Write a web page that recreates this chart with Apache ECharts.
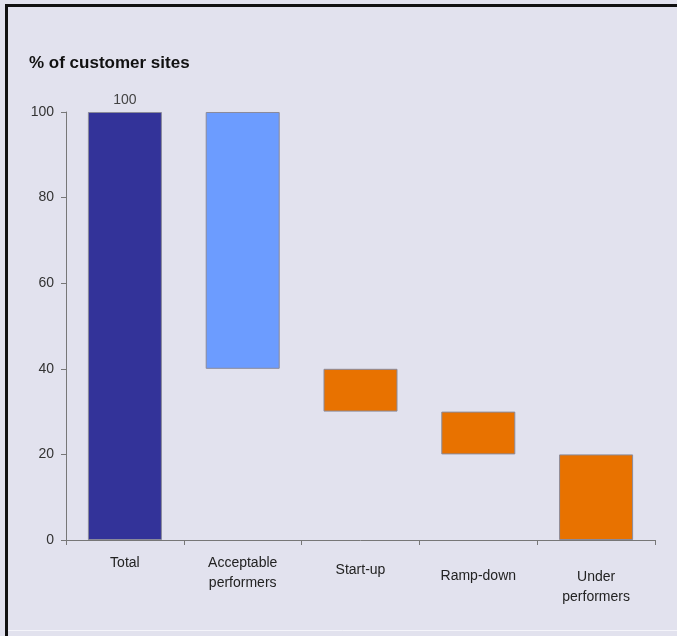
<!DOCTYPE html>
<html lang="en">
<head>
  <meta charset="UTF-8">
  <title>% of customer sites</title>
  <script src="https://cdn.jsdelivr.net/npm/echarts@6/dist/echarts.min.js"></script>
  <style>
    html, body { margin: 0; padding: 0; background: #e2e2ee; }
  </style>
</head>
<body>
<div id="main" style="width: 677px;height:636px;"></div>
<script type="text/javascript">

var categories = ['Total', 'Acceptable\nperformers', 'Start-up', 'Ramp-down', 'Under\nperformers'];
var baseValues = [0, 40, 30, 20, 0];      // invisible part of each waterfall step
var stepValues = [100, 60, 10, 10, 20];   // visible part
var barColors = ['#333399', '#6c9cff', '#e87200', '#e87200', '#e87200'];
var yTicks = [0, 20, 40, 60, 80, 100];

// each label sits at a slightly different height in the original
var labelPad = [0, 0, 7, 13, 14];

var myChart = echarts.init(document.getElementById('main'));

var option = {
  backgroundColor: '#e2e2ee',
  animation: false,
  title: {
    text: '% of customer sites',
    left: 24,
    top: 50,
    textStyle: {
      fontFamily: 'Liberation Sans',
      fontSize: 17,
      fontWeight: 'bold',
      color: '#111'
    }
  },
  graphic: [
    { type: 'line', shape: { x1: 6.5, y1: 5, x2: 6.5, y2: 636 }, style: { stroke: '#111', lineWidth: 3 } },
    { type: 'line', shape: { x1: 5, y1: 5.5, x2: 677, y2: 5.5 }, style: { stroke: '#111', lineWidth: 3 } },
    { type: 'line', shape: { x1: 8, y1: 630.5, x2: 677, y2: 630.5 }, style: { stroke: '#f4f4fa', lineWidth: 1 } }
  ],
  grid: {
    left: 66,
    right: 22,
    top: 112,
    bottom: 96
  },
  xAxis: {
    type: 'category',
    data: categories.map(function (c, i) {
      return { value: c, textStyle: { padding: [labelPad[i], 0, 0, 0] } };
    }),
    axisLine: { lineStyle: { color: '#777' } },
    axisTick: { show: true, length: 5, lineStyle: { color: '#777' } },
    axisLabel: {
      margin: 13,
      fontFamily: 'Liberation Sans',
      fontSize: 14,
      color: '#222',
      lineHeight: 20,
      interval: 0
    }
  },
  yAxis: {
    type: 'value',
    min: 0,
    max: 100,
    interval: 20,
    axisLine: { show: true, lineStyle: { color: '#777' } },
    axisTick: { show: true, length: 5, lineStyle: { color: '#777' } },
    splitLine: { show: false },
    axisLabel: {
      margin: 12,
      fontFamily: 'Liberation Sans',
      fontSize: 14,
      color: '#333',
      formatter: function (v) { return yTicks.indexOf(v) >= 0 ? String(v) : ''; }
    }
  },
  series: [
    {
      name: 'base',
      type: 'bar',
      stack: 'wf',
      barWidth: 74,
      itemStyle: { color: 'transparent', borderColor: 'transparent' },
      emphasis: { disabled: true },
      data: baseValues
    },
    {
      name: 'step',
      type: 'bar',
      stack: 'wf',
      barWidth: 74,
      data: stepValues.map(function (v, i) {
        return {
          value: v,
          itemStyle: { color: barColors[i], borderColor: '#8a8a9a', borderWidth: 1 },
          label: { show: i === 0 }
        };
      }),
      label: {
        position: 'top',
        distance: 5,
        fontFamily: 'Liberation Sans',
        fontSize: 14,
        color: '#444'
      }
    }
  ]
};

myChart.setOption(option);

</script>
</body>
</html>
